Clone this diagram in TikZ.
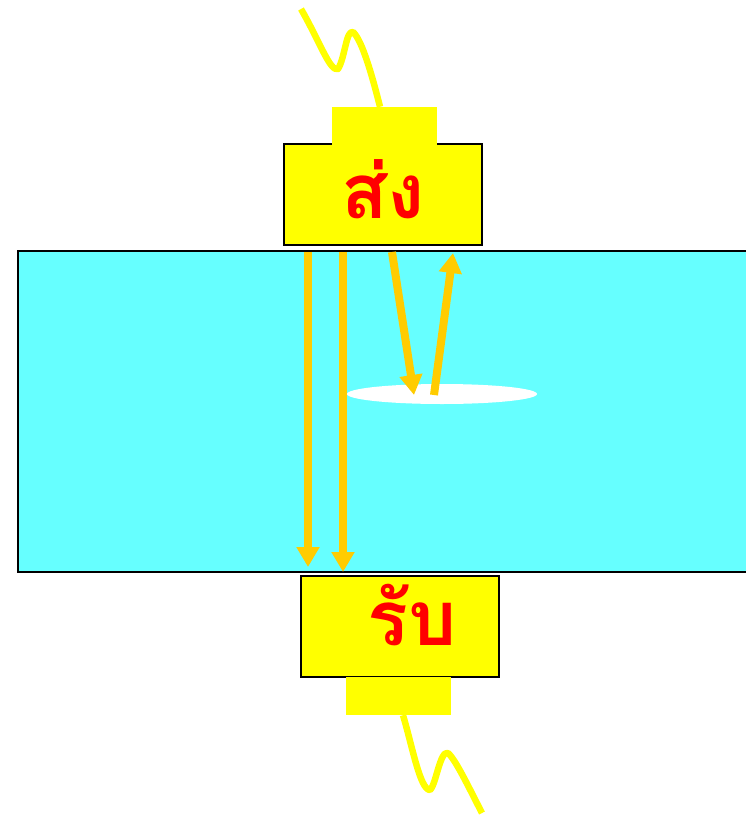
\documentclass[tikz,border=0pt]{standalone}
\usepackage{fontspec}
\newfontfamily\thaifont[Script=Thai]{Loma}
\usetikzlibrary{arrows.meta,positioning,calc,shapes.geometric}
\definecolor{Water}{HTML}{66FFFF}
\definecolor{Probe}{HTML}{FFFF00}
\definecolor{Beam}{HTML}{FFCC00}
\definecolor{Label}{HTML}{FF0000}
\tikzset{
  probe/.style={draw=black,fill=Probe,line width=1.5pt,minimum width=198pt,minimum height=101pt,inner sep=0pt},
  word/.style={font=\thaifont\bfseries\fontsize{76}{76}\selectfont,text=Label,inner sep=0pt,anchor=base},
  tab/.style={fill=Probe,minimum width=105pt,minimum height=38pt,inner sep=0pt},
  tank/.style={draw=black,fill=Water,line width=1.5pt,minimum width=730pt,minimum height=321pt,inner sep=0pt},
  flaw/.style={fill=white,ellipse,minimum width=190pt,minimum height=20pt,inner sep=0pt},
  beam/.style={-{Triangle[length=20pt,width=22pt]},draw=Beam,line width=8pt},
  cable/.style={draw=Probe,line width=6.5pt,line join=round},
}

\begin{document}
\begin{tikzpicture}[x=1pt,y=-1pt]
        \useasboundingbox (0,0) rectangle (746,816);
        \node[tank] (tank) at (383,411.5) {};
        \node[flaw] (flaw) at (442,394) {};
        \node[probe] (send) at (383,194.5) {};
        \node[tab] (sendtab) at (384.5,126) {};
        \node[word] (sendtxt) at (383,218) {ส่ง};
        \node[probe] (recv) at (400,626.5) {};
        \node[tab] (recvtab) at (398.5,696) {};
        \node[word] (recvtxt) at (412,645) {รับ};
        % beams
        \coordinate (a1) at (308,252);
        \coordinate (a2) at (308,567);
        \coordinate (b1) at (343,252);
        \coordinate (b2) at (343,572);
        \coordinate (c1) at (392,252);
        \coordinate (c2) at (414,395);
        \coordinate (d1) at (434,395);
        \coordinate (d2) at (453,253);
        \draw[beam] (a1) -- (a2);
        \draw[beam] (b1) -- (b2);
        \draw[beam] (c1) -- (c2);
        \draw[beam] (d1) -- (d2);
        % cables
        \coordinate (sendend) at (301,9);
        \coordinate (recvend) at (482,813);
        \draw[cable] (sendend) .. controls (320,42) and (330,72) .. (338,69) .. controls (345,58) and (346,30) .. (353,32) .. controls (362,40) and (372,75) .. (sendtab.north -| 380,0);
        \draw[cable] (recvtab.south -| 403,0) .. controls (412,745) and (420,790) .. (430,790) .. controls (436,785) and (440,750) .. (448,753) .. controls (456,760) and (470,790) .. (recvend);
\end{tikzpicture}
\end{document}
